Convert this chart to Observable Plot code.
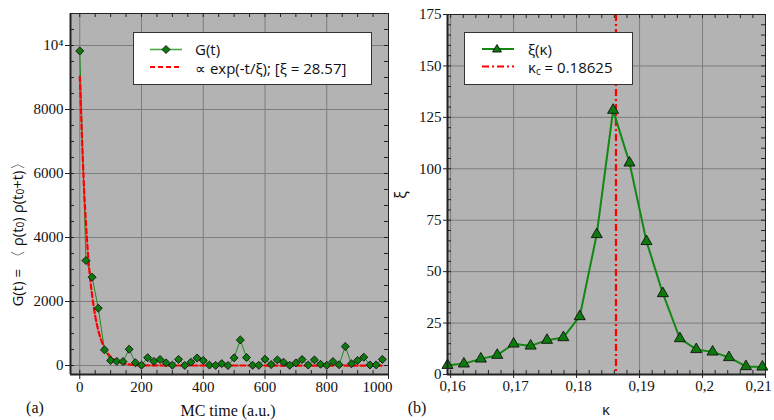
<!DOCTYPE html>
<html><head><meta charset="utf-8">
<script src="https://cdn.jsdelivr.net/npm/d3@7"></script>
<script src="https://cdn.jsdelivr.net/npm/@observablehq/plot@0.6"></script>
<style>
body{margin:0;background:#fff;}
#wrap{position:relative;width:774px;height:420px;overflow:hidden;}
#wrap svg.plotsvg{position:absolute;top:0;background:transparent;overflow:visible;}
#overlay{position:absolute;left:0;top:0;pointer-events:none;}
</style></head><body><div id="wrap"></div>
<script>
// ---- Panel (a): autocorrelation G(t) ----
const tValues = [0,20,40,60,80,100,120,140,160,180,200,220,240,260,280,300,320,340,360,380,400,420,440,460,480,500,520,540,560,580,600,620,640,660,680,700,720,740,760,780,800,820,840,860,880,900,920,940,960,980];
const gValues = [9830,3281,2760,1792,490,156,130,125,510,90,12,245,130,188,83,12,192,5,104,235,156,15,5,60,0,240,800,250,8,8,198,31,177,104,8,83,188,15,177,40,8,125,25,594,55,160,260,18,20,192];
const fitT = [0,5,10,15,20,25,30,35,40,50,60,70,80,90,100,110,120,140,160,180,200,300,980];
const fitG = [9030,7700,6400,5300,4450,3700,3100,2600,2200,1550,1100,780,550,390,275,190,135,70,34,17,8,1,0];
const leftXTicks = [0,200,400,600,800,1000];
const leftYTicks = [0,2000,4000,6000,8000,10000];

// ---- Panel (b): correlation length xi(kappa) ----
const kappaValues = [0.1595,0.1621,0.1648,0.1674,0.1700,0.1727,0.1753,0.1779,0.1805,0.1832,0.1858,0.1884,0.1911,0.1937,0.1964,0.1990,0.2016,0.2042,0.2069,0.2095];
const xiValues = [4.5,5.2,7.6,9.4,14.9,13.9,16.7,18.0,28.2,68.1,128.5,102.9,64.7,39.4,17.5,12.2,11.0,8.3,3.9,3.7];
const kappaC = 0.18625;
const rightXTicks = [0.16,0.17,0.18,0.19,0.2,0.21];
const rightYTicks = [0,25,50,75,100,125,150,175];

const BG = "#b3b3b3", GRID = "#7d7d7d", FRAME = "#222";
const GREEN = "#0c7a0c";
const AX = {fill:"#111"};
const wrap = document.getElementById("wrap");

function serifTicks(svg) {
  svg.querySelectorAll("text").forEach(t => {
    t.style.fontFamily = "'Liberation Serif', serif";
    t.style.fontSize = "15px";
  });
}

// left plot
const L = {W:400, H:420, ml:70, mr:12, mt:13, mb:46};
const Lpw = L.W - L.ml - L.mr, Lph = L.H - L.mt - L.mb;
const gData = tValues.map((t,i)=>({t, g:gValues[i]}));
const fitData = fitT.map((t,i)=>({t, g:fitG[i]}));
const minorXL = d3.range(0, 1001, 50);
const minorYL = d3.range(0, 10501, 500);

const left = Plot.plot({
  width:L.W, height:L.H, marginLeft:L.ml, marginRight:L.mr, marginTop:L.mt, marginBottom:L.mb,
  x:{domain:[-30,1000], label:null},
  y:{domain:[-280,11000], label:null},
  marks:[
    Plot.frame({fill:BG}),
    Plot.gridX(leftXTicks, {stroke:GRID, strokeOpacity:1, strokeWidth:1}),
    Plot.gridY(leftYTicks, {stroke:GRID, strokeOpacity:1, strokeWidth:1}),
    Plot.tickX(minorXL, {x:d=>d, insetTop:Lph-4, stroke:FRAME}),
    Plot.tickX(minorXL, {x:d=>d, insetBottom:Lph-4, stroke:FRAME}),
    Plot.tickY(minorYL, {y:d=>d, insetRight:Lpw-4, stroke:FRAME}),
    Plot.tickY(minorYL, {y:d=>d, insetLeft:Lpw-4, stroke:FRAME}),
    Plot.line(gData, {x:"t", y:"g", stroke:"#1f8a1f", strokeWidth:1}),
    Plot.line(fitData, {x:"t", y:"g", stroke:"#ff0000", strokeWidth:2.2, strokeDasharray:"5,3", curve:"monotone-x"}),
    Plot.dot(gData, {x:"t", y:"g", symbol:"diamond2", r:3.6, fill:GREEN, stroke:"#111", strokeWidth:0.9}),
    Plot.axisX(leftXTicks, {tickSize:5, tickFormat:()=>"", label:null, stroke:FRAME}),
    Plot.axisX(leftXTicks.slice(0,-1), {...AX, tickSize:0, tickPadding:7, label:null, tickFormat:d=>String(d)}),
    Plot.axisX([1000], {...AX, tickSize:0, tickPadding:7, dx:-11, label:null, tickFormat:d=>String(d)}),
    Plot.axisY(leftYTicks, {...AX, tickSize:5, tickPadding:2, label:null, stroke:FRAME,
      tickFormat:d=> d===10000 ? "10\u2074" : String(d)}),
    Plot.frame({stroke:FRAME, strokeWidth:1}),
    Plot.ruleX([-30], {stroke:FRAME, strokeWidth:2}),
    Plot.ruleY([-280], {stroke:FRAME, strokeWidth:2})
  ]
});
left.classList.add("plotsvg");
left.style.left = "0px";
serifTicks(left);
wrap.appendChild(left);

// right plot
const R = {W:384, H:420, ml:57, mr:9, mt:14, mb:46};
const Rpw = R.W - R.ml - R.mr, Rph = R.H - R.mt - R.mb;
const xiData = kappaValues.map((k,i)=>({k, xi:xiValues[i]}));
const minorXR = d3.range(80, 106).map(i=>i*0.002);
const minorYR = d3.range(0, 176, 5);
const fmtK = d=>String(d).replace(".", ",");

const right = Plot.plot({
  width:R.W, height:R.H, marginLeft:R.ml, marginRight:R.mr, marginTop:R.mt, marginBottom:R.mb,
  x:{domain:[0.1595,0.21], label:null},
  y:{domain:[0,175], label:null},
  marks:[
    Plot.frame({fill:BG}),
    Plot.gridX(rightXTicks, {stroke:GRID, strokeOpacity:1, strokeWidth:1}),
    Plot.gridY(rightYTicks, {stroke:GRID, strokeOpacity:1, strokeWidth:1}),
    Plot.tickX(minorXR, {x:d=>d, insetTop:Rph-4, stroke:FRAME}),
    Plot.tickX(minorXR, {x:d=>d, insetBottom:Rph-4, stroke:FRAME}),
    Plot.tickY(minorYR, {y:d=>d, insetRight:Rpw-4, stroke:FRAME}),
    Plot.tickY(minorYR, {y:d=>d, insetLeft:Rpw-4, stroke:FRAME}),
    Plot.ruleX([kappaC], {stroke:"#ff0000", strokeWidth:2.2, strokeDasharray:"7,3,2,3"}),
    Plot.line(xiData, {x:"k", y:"xi", stroke:"#118811", strokeWidth:2}),
    Plot.dot(xiData, {x:"k", y:"xi", symbol:"triangle", r:4.1, fill:GREEN, stroke:"#111", strokeWidth:0.9}),
    Plot.axisX(rightXTicks, {tickSize:4, tickFormat:()=>"", label:null, stroke:FRAME}),
    Plot.axisX(rightXTicks.slice(0,-1), {...AX, tickSize:0, tickPadding:6, dx:2, label:null, tickFormat:fmtK}),
    Plot.axisX([0.21], {...AX, tickSize:0, tickPadding:6, dx:-7, label:null, tickFormat:fmtK}),
    Plot.axisY(rightYTicks, {...AX, tickSize:4, tickPadding:2, label:null, stroke:FRAME, tickFormat:d=>String(d)}),
    Plot.frame({stroke:FRAME, strokeWidth:1}),
    Plot.ruleX([0.1595], {stroke:FRAME, strokeWidth:2}),
    Plot.ruleY([0], {stroke:FRAME, strokeWidth:2})
  ]
});
right.classList.add("plotsvg");
right.style.left = "390px";
serifTicks(right);
wrap.appendChild(right);

// overlay: legends and axis titles
const ns = "http://www.w3.org/2000/svg";
const ov = document.createElementNS(ns, "svg");
ov.setAttribute("id","overlay");
ov.setAttribute("width","774"); ov.setAttribute("height","420");
ov.innerHTML = `
 <g font-family="'Open Sans', sans-serif" font-size="15" fill="#111" style="white-space:pre">
  <rect x="133.5" y="32.5" width="238" height="52" fill="#fff" stroke="#333" stroke-width="1"/>
  <line x1="150" x2="182" y1="49.5" y2="49.5" stroke="#4aa84a" stroke-width="1.6"/>
  <path d="M166,45.5 L170,49.5 L166,53.5 L162,49.5 Z" fill="${GREEN}" stroke="#111" stroke-width="0.9"/>
  <text x="195" y="48.5" dominant-baseline="central">G(t)</text>
  <line x1="150" x2="181" y1="67" y2="67" stroke="#ff0000" stroke-width="2.2" stroke-dasharray="5,3"/>
  <text x="195" y="67.5" dominant-baseline="central">∝ exp(-t/ξ);  [ξ = 28.57]</text>

  <rect x="464.5" y="32.5" width="168" height="52" fill="#fff" stroke="#333" stroke-width="1"/>
  <line x1="482" x2="514" y1="49" y2="49" stroke="#118811" stroke-width="2"/>
  <path d="M497,44.5 L501.5,52 L492.5,52 Z" fill="${GREEN}" stroke="#111" stroke-width="0.9"/>
  <text x="528" y="48.5" dominant-baseline="central">ξ(κ)</text>
  <text x="528" y="67" dominant-baseline="central">κ<tspan font-size="10" dy="4">c</tspan><tspan dy="-4"> = 0.18625</tspan></text>
  <line x1="482" x2="514" y1="66.5" y2="66.5" stroke="#ff0000" stroke-width="2.2" stroke-dasharray="7,3,2,3"/>

  <text transform="translate(17,231) rotate(-90)" text-anchor="middle" dominant-baseline="central">G(t)  =  〈 ρ(t<tspan font-size="10" dy="3">0</tspan><tspan dy="-3">) ρ(t</tspan><tspan font-size="10" dy="3">0</tspan><tspan dy="-3">+t)〉</tspan></text>
  <text transform="translate(401,195) rotate(-90)" text-anchor="middle" dominant-baseline="central" font-size="16">ξ</text>
  <text x="606" y="409" text-anchor="middle" dominant-baseline="central">κ</text>
 </g>
 <g font-family="'Liberation Serif', serif" font-size="16" fill="#111">
  <text x="228" y="410" text-anchor="middle" dominant-baseline="central">MC time (a.u.)</text>
  <text x="35" y="407" text-anchor="middle" dominant-baseline="central">(a)</text>
  <text x="417" y="407" text-anchor="middle" dominant-baseline="central">(b)</text>
 </g>`;
wrap.appendChild(ov);
</script>
</body></html>
